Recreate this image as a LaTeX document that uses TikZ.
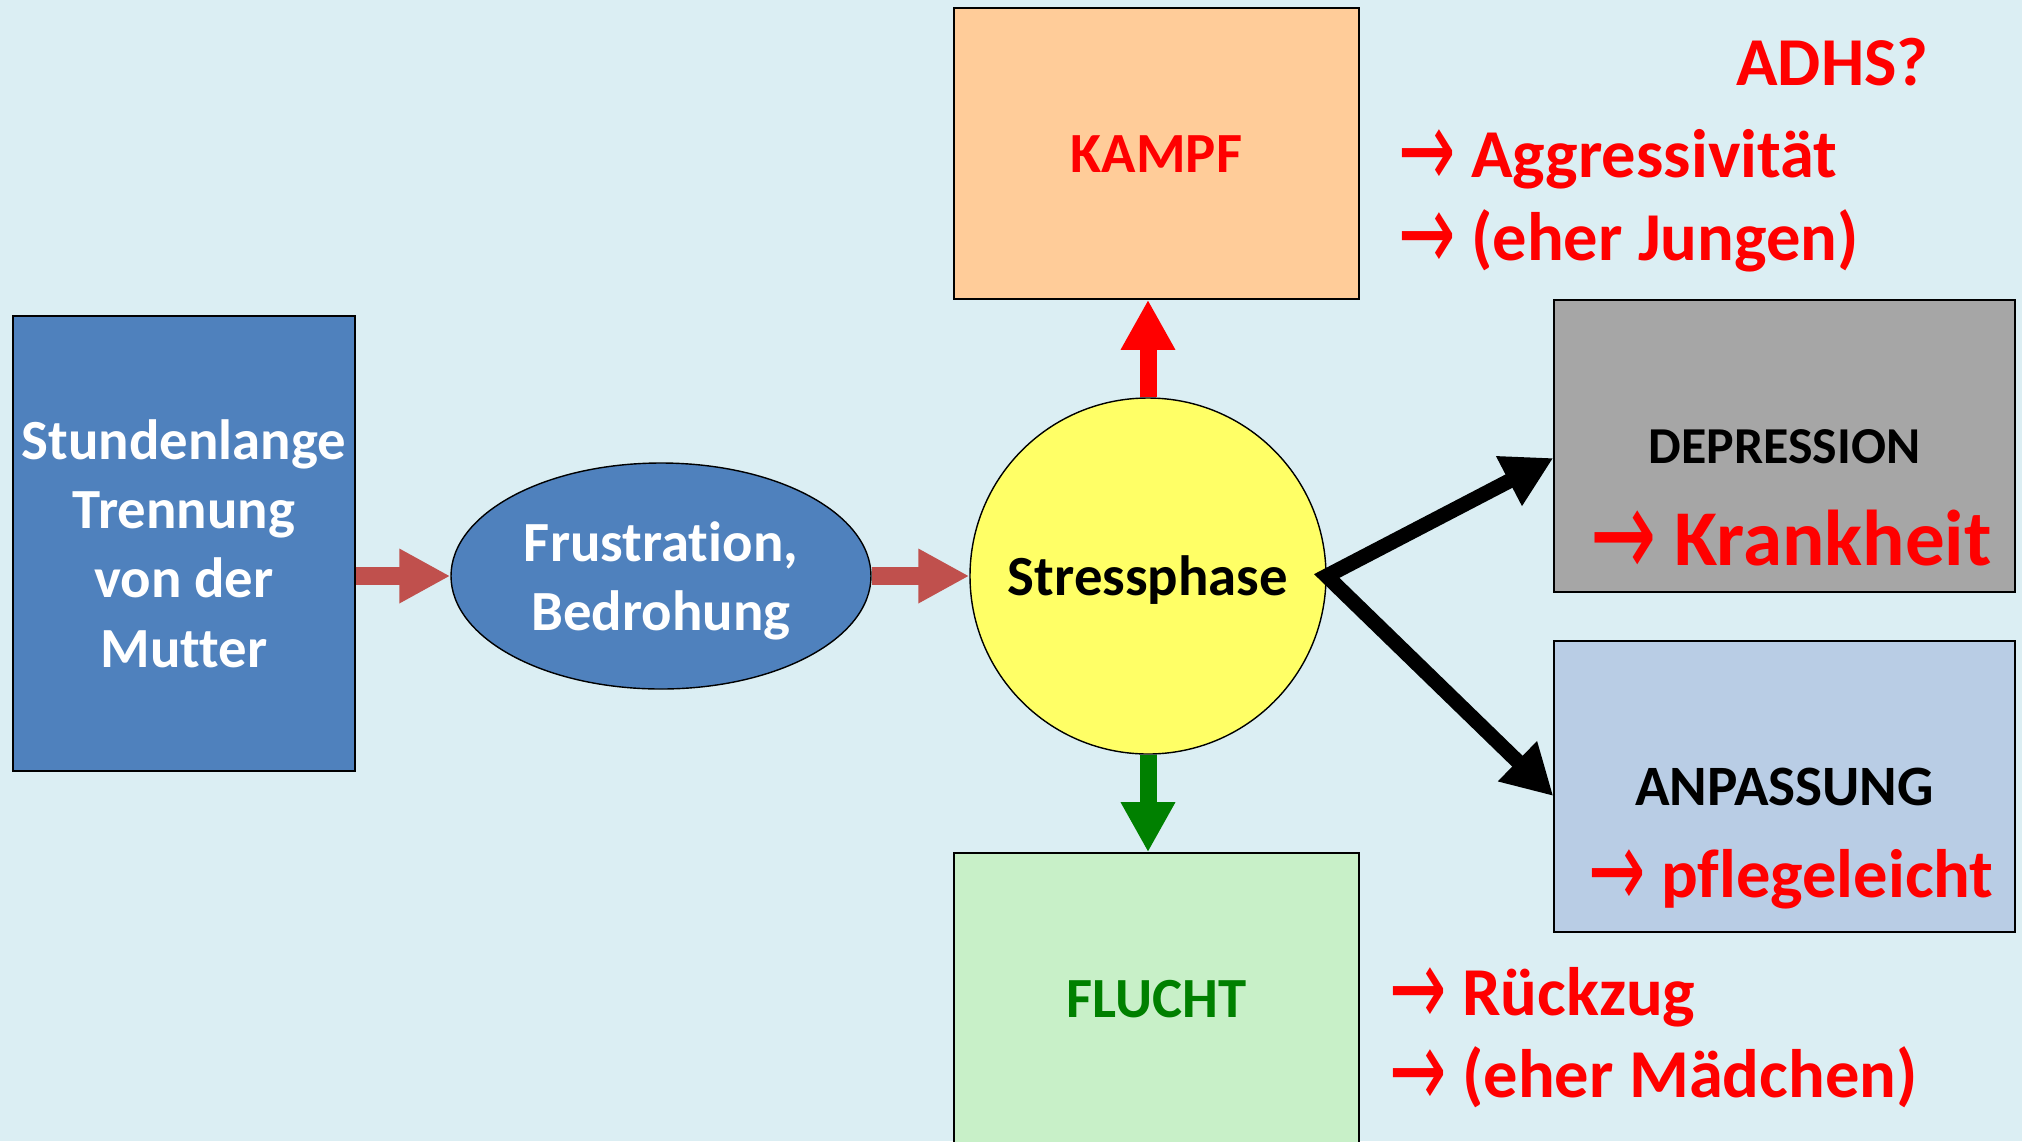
\documentclass[tikz,border=0pt]{standalone}
\usepackage{fontspec}
\usepackage{graphicx}
\setmainfont{Carlito}[Ligatures=NoCommon]
\newfontfamily\arrowfont{DejaVu Sans}
\usetikzlibrary{arrows.meta,positioning,shapes.geometric}

\definecolor{bgblue}{RGB}{219,238,243}
\definecolor{boxblue}{RGB}{79,129,189}
\definecolor{stressyellow}{RGB}{255,255,102}
\definecolor{kampforange}{RGB}{255,204,153}
\definecolor{fluchtgreen}{RGB}{200,240,200}
\definecolor{depgray}{RGB}{166,166,166}
\definecolor{anpblue}{RGB}{185,205,229}
\definecolor{arrowred}{RGB}{192,80,77}
\definecolor{darkgreen}{RGB}{0,128,0}

\newcommand{\ra}{\raisebox{-0.16em}{\scalebox{1}[1.6]{\arrowfont\mdseries →}}}

\begin{document}
\begin{tikzpicture}[
  node distance=1.95cm,
  box/.style={draw, line width=0.8pt, inner sep=0pt, align=center, text depth=0pt, font=\bfseries\fontsize{32.3}{39.3}\selectfont},
  blockarrow/.style={arrowred, line width=0.36cm, -{Triangle[length=1.02cm, width=1.02cm]}},
  bigarrow/.style={line width=0.34cm, -{Triangle[length=1cm, width=1.02cm]}},
  thickarrow/.style={black, line width=0.3cm, {Triangle[length=1cm, width=1.05cm]}-{Triangle[length=1cm, width=1.05cm]}},
  note/.style={anchor=base west, text=red, inner sep=0pt, font=\bfseries\fontsize{39}{47}\selectfont},
]
  \clip (0,0) rectangle (40.44,-22.82);
  \fill[bgblue] (0,0) rectangle (40.44,-22.82);

  \node[box, fill=boxblue, text=white, minimum width=6.84cm, minimum height=9.1cm] (trennung) at (3.68,-10.87) {Stundenlange\\Trennung\\von der\\Mutter};
  \node[box, ellipse, fill=boxblue, text=white, minimum width=8.4cm, minimum height=4.52cm] (frust) at (13.22,-11.52) {Frustration,\\Bedrohung};
  \node[box, circle, fill=stressyellow, minimum size=7.12cm] (stress) at (22.96,-11.52) {Stressphase};
  \node[box, fill=kampforange, text=red, minimum width=8.1cm, minimum height=5.82cm, above=of stress, xshift=0.17cm] (kampf) {KAMPF};
  \node[box, fill=fluchtgreen, text=darkgreen, minimum width=8.1cm, minimum height=5.82cm, below=of stress, xshift=0.17cm] (flucht) {FLUCHT};
  \node[box, fill=depgray, minimum width=9.22cm, minimum height=5.84cm, font=\bfseries\fontsize{29.5}{35}\selectfont] (depression) at (35.69,-8.92) {DEPRESSION};
  \node[box, fill=anpblue, minimum width=9.22cm, minimum height=5.82cm, font=\bfseries\fontsize{32.5}{39}\selectfont] (anpassung) at (35.69,-15.73) {ANPASSUNG};

  \node[anchor=base, text=red, inner sep=0pt, font=\bfseries\fontsize{45}{54}\selectfont] (krankheit) at (35.82,-11.3) {\ra\ Krankheit};
  \node[anchor=base, text=red, inner sep=0pt, font=\bfseries\fontsize{39}{47}\selectfont] (pflege) at (35.82,-17.94) {\ra\ pflegeleicht};

  \node[note] (adhs) at (34.72,-1.7) {ADHS?};
  \node[note] (aggr) at (27.96,-3.54) {\ra\ Aggressivität};
  \node[note] (jungen) at (27.96,-5.2) {\ra\ (eher Jungen)};
  \node[note] (rueckzug) at (27.78,-20.3) {\ra\ Rückzug};
  \node[note] (maedchen) at (27.78,-21.94) {\ra\ (eher Mädchen)};

  \draw[blockarrow] (trennung.east |- frust.west) -- (frust.west);
  \draw[blockarrow] (frust.east) -- (stress.west);
  \draw[bigarrow, red] (stress.north) -- (stress.north |- kampf.south);
  \draw[bigarrow, darkgreen] (stress.south) -- (stress.south |- flucht.north);
  \draw[thickarrow] ([yshift=-0.24cm]depression.west) -- (stress.east) -- ([yshift=-0.19cm]anpassung.west);
\end{tikzpicture}
\end{document}
